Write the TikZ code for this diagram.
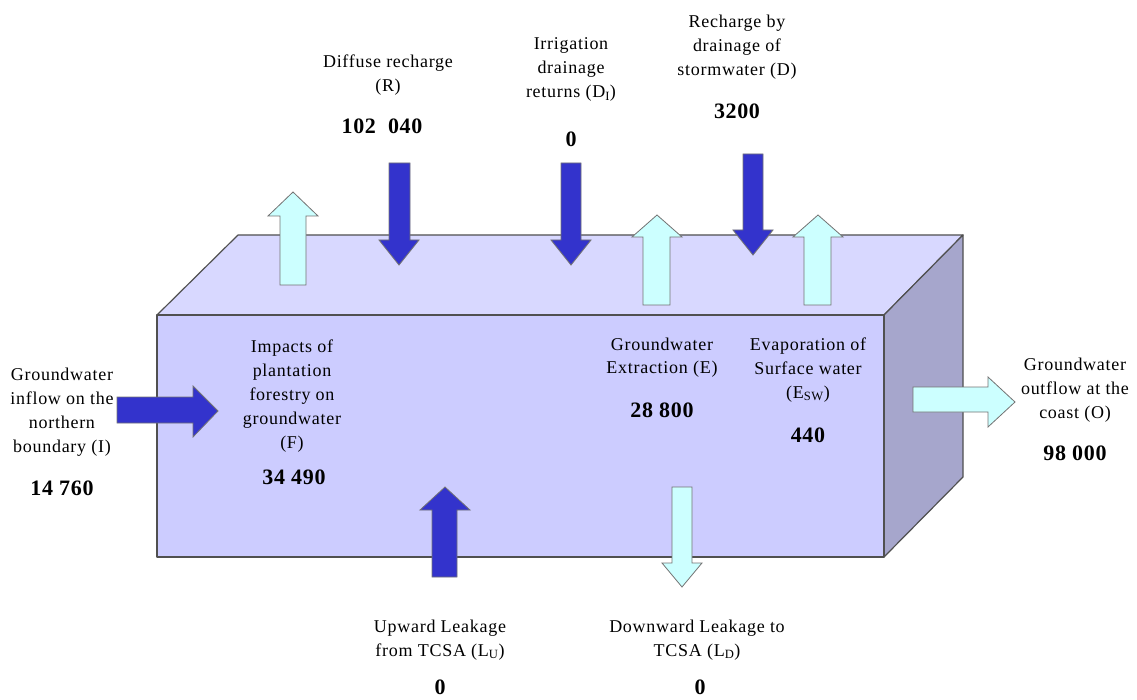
\documentclass[tikz,border=0pt]{standalone}
\usepackage{fontspec}
\setmainfont{Liberation Serif}[LetterSpace=4]
\newfontfamily\numfont{Liberation Serif}[LetterSpace=3]
\definecolor{frontc}{RGB}{204,204,255}
\definecolor{topc}{RGB}{216,216,255}
\definecolor{sidec}{RGB}{166,166,204}
\definecolor{darkarr}{RGB}{51,51,204}
\definecolor{lightarr}{RGB}{204,255,255}
\definecolor{edgec}{RGB}{80,80,80}
\begin{document}
\begin{tikzpicture}[x=1pt,y=-1pt,
  face/.style={draw=edgec,line width=1.2pt,line join=round},
  darkarrow/.style={fill=darkarr,draw=edgec!80,line width=0.8pt,line join=miter},
  lightarrow/.style={fill=lightarr,draw=edgec!80,line width=0.8pt,line join=miter},
  lbl/.style={align=center,inner sep=0pt,anchor=north,font=\fontsize{18}{24}\selectfont},
  num/.style={inner sep=0pt,anchor=base,font=\numfont\bfseries\fontsize{22}{26}\selectfont}]
\useasboundingbox (0,0) rectangle (1137,700);
% box
\path[face,fill=topc] (157,315) -- (238,235) -- (963,235) -- (884,315) -- cycle;
\path[face,fill=sidec] (884,315) -- (963,235) -- (963,477) -- (884,557) -- cycle;
\path[face,fill=frontc] (157,315) rectangle (884,557);
% arrows
\path[lightarrow] (280,285) -- (306,285) -- (306,216) -- (318,216) -- (293,192) -- (268,216) -- (280,216) -- cycle;
\path[darkarrow] (389,163) -- (410,163) -- (410,240) -- (419,240) -- (399,265) -- (379,240) -- (389,240) -- cycle;
\path[darkarrow] (561,163) -- (581,163) -- (581,240) -- (591,240) -- (571,265) -- (551,240) -- (561,240) -- cycle;
\path[lightarrow] (643,305) -- (670,305) -- (670,237) -- (682,237) -- (657,215) -- (632,237) -- (643,237) -- cycle;
\path[darkarrow] (743,154) -- (763,154) -- (763,230) -- (773,230) -- (753,255) -- (733,230) -- (743,230) -- cycle;
\path[lightarrow] (804,305) -- (831,305) -- (831,237) -- (843,237) -- (818,215) -- (793,237) -- (804,237) -- cycle;
\path[darkarrow] (117,397) -- (193,397) -- (193,386) -- (218,411) -- (193,437) -- (193,423) -- (117,423) -- cycle;
\path[lightarrow] (913,387) -- (988,387) -- (988,377) -- (1015,402) -- (988,427) -- (988,412) -- (913,412) -- cycle;
\path[darkarrow] (432,577) -- (457,577) -- (457,510) -- (470,510) -- (445,487) -- (420,510) -- (432,510) -- cycle;
\path[lightarrow] (672,487) -- (692,487) -- (692,563) -- (702,563) -- (682,587) -- (662,563) -- (672,563) -- cycle;
% labels
\node[lbl] (R) at (388,51) {\strut Diffuse recharge\\(R)};
\node[num] (Rn) at (382,134) {102\hspace{0.55em}040};
\node[lbl] (DI) at (571,33) {\strut Irrigation\\drainage\\returns (D\textsubscript{I})};
\node[num] (DIn) at (571,147) {0};
\node[lbl] (D) at (737,11) {\strut Recharge by\\drainage of\\stormwater (D)};
\node[num] (Dn) at (737,119) {3200};
\node[lbl] (F) at (292,335) {\strut Impacts of\\plantation\\forestry on\\groundwater\\(F)};
\node[num] (Fn) at (294,484) {34 490};
\node[lbl] (E) at (662,333) {\strut Groundwater\\Extraction (E)};
\node[num] (En) at (662,417) {28 800};
\node[lbl] (ESW) at (808,333) {\strut Evaporation of\\Surface water\\(E\textsubscript{SW})};
\node[num] (ESWn) at (808,442) {440};
\node[lbl] (I) at (62,363) {\strut Groundwater\\inflow on the\\northern\\boundary (I)};
\node[num] (In) at (62,495) {14 760};
\node[lbl] (O) at (1075,353) {\strut Groundwater\\outflow at the\\coast (O)};
\node[num] (On) at (1075,460) {98 000};
\node[lbl] (LU) at (440,615) {\strut Upward Leakage\\from TCSA (L\textsubscript{U})};
\node[num] (LUn) at (440,694) {0};
\node[lbl] (LD) at (697,615) {\strut Downward Leakage to\\TCSA (L\textsubscript{D})};
\node[num] (LDn) at (700,694) {0};
\end{tikzpicture}
\end{document}
